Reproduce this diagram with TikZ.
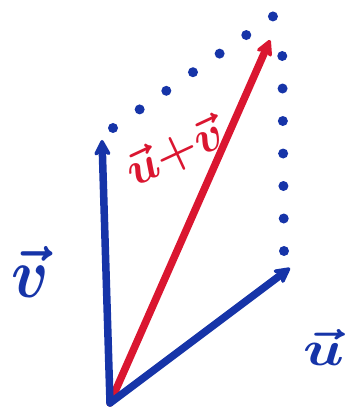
\documentclass[tikz,border=0pt]{standalone}
\usepackage{amsmath}
\usepackage{amssymb}
\usetikzlibrary{arrows.meta, positioning}
\definecolor{penblue}{RGB}{22,52,168}
\definecolor{penred}{RGB}{218,22,48}

\begin{document}
\begin{tikzpicture}[x=1pt, y=-1pt,
  vec/.style={line width=7.5pt, line cap=round, -{Stealth[length=20pt, width=21pt, round]}},
  guide/.style={penblue, line width=10pt, line cap=round, dash pattern=on 0pt off 32.5pt},
  lbl/.style={font=\huge, inner sep=0pt}
]
\useasboundingbox (0,0) rectangle (352,419);
% tips of the vectors
\coordinate (O) at (110,403);
\coordinate (V) at (102,140);
\coordinate (U) at (290,268);
\coordinate (W) at (270,40);
% ends of the dotted guides
\coordinate (Vg) at (113,128);
\coordinate (Ug) at (284,251);
\coordinate (C) at (275,15);
\coordinate (Cr) at (282,25);

\draw[guide] (Vg) -- (C);
\draw[guide] (Ug) -- (Cr);

\draw[vec, penred] (O) -- (W);
\draw[vec, penblue] (O) -- (V);
\draw[vec, penblue] (O) -- (U);

\node[lbl, text=penblue, xscale=3.0, yscale=3.4] (vlab) at (30,272) {$\boldsymbol{\vec{v}}$};
\node[lbl, text=penblue, xscale=2.9, yscale=2.4] (ulab) at (324,347) {$\boldsymbol{\vec{u}}$};
\node[lbl, text=penred, rotate=25, xscale=2.3, yscale=2.3] (wlab) at (175,153) {$\boldsymbol{\vec{u}{+}\vec{v}}$};
\end{tikzpicture}
\end{document}
